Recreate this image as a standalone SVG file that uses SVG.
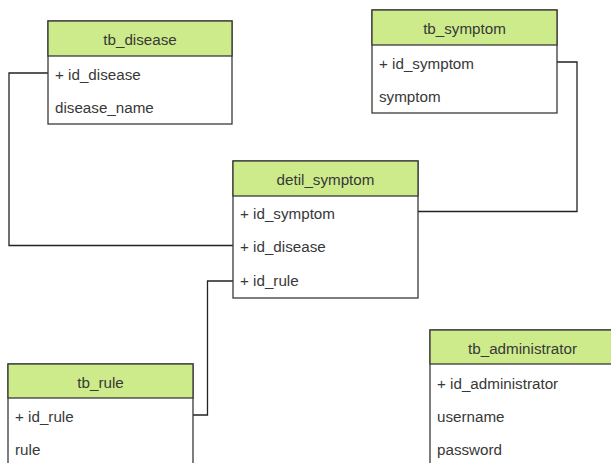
<svg xmlns="http://www.w3.org/2000/svg" width="611" height="463" viewBox="0 0 611 463">
<style>
.box{fill:#ffffff;stroke:#3a3a3a;stroke-width:1.3}
.hdr{fill:#cdeb8b;stroke:#3a3a3a;stroke-width:1.3}
.t{font-family:"Liberation Sans",Arial,sans-serif;font-size:15.2px;fill:#383838}
.h{text-anchor:middle}
.c{fill:none;stroke:#222222;stroke-width:1.3}
</style>
<rect width="611" height="463" fill="#ffffff"/>
<g id="connectors">
<polyline class="c" points="48,73 9,73 9,245.5 233,245.5"/>
<polyline class="c" points="557,62 577,62 577,211.5 418,211.5"/>
<polyline class="c" points="233,281 207.5,281 207.5,415 193,415"/>
</g>
<g id="tb_disease">
<rect class="box" x="48" y="21" width="184" height="103"/>
<rect class="hdr" x="48" y="21" width="184" height="35"/>
<text class="t h" x="140" y="44.5">tb_disease</text>
<text class="t" x="55" y="79.5">+ id_disease</text>
<text class="t" x="55" y="112.5">disease_name</text>
</g>
<g id="tb_symptom">
<rect class="box" x="372" y="10" width="185" height="103"/>
<rect class="hdr" x="372" y="10" width="185" height="35"/>
<text class="t h" x="464.5" y="33.5">tb_symptom</text>
<text class="t" x="379" y="68.5">+ id_symptom</text>
<text class="t" x="379" y="102">symptom</text>
</g>
<g id="detil_symptom">
<rect class="box" x="233" y="161" width="185" height="137"/>
<rect class="hdr" x="233" y="161" width="185" height="35"/>
<text class="t h" x="325.5" y="184.5">detil_symptom</text>
<text class="t" x="240" y="218.5">+ id_symptom</text>
<text class="t" x="240" y="252">+ id_disease</text>
<text class="t" x="240" y="286">+ id_rule</text>
</g>
<g id="tb_rule">
<rect class="box" x="8" y="364" width="185" height="110"/>
<rect class="hdr" x="8" y="364" width="185" height="34"/>
<text class="t h" x="100.5" y="387.5">tb_rule</text>
<text class="t" x="15" y="422">+ id_rule</text>
<text class="t" x="15" y="455">rule</text>
</g>
<g id="tb_administrator">
<rect class="box" x="430" y="330" width="185" height="140"/>
<rect class="hdr" x="430" y="330" width="185" height="34"/>
<text class="t h" x="522.5" y="353.5">tb_administrator</text>
<text class="t" x="437" y="389">+ id_administrator</text>
<text class="t" x="437" y="422">username</text>
<text class="t" x="437" y="455">password</text>
</g>
</svg>
